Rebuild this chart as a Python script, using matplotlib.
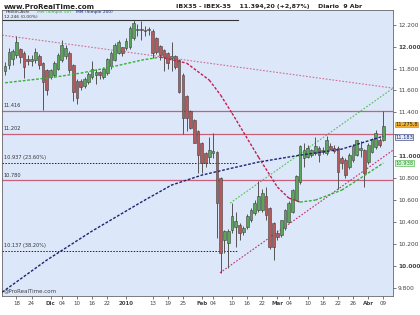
import numpy as np
import matplotlib.pyplot as plt
from matplotlib.transforms import blended_transform_factory

# Heikin-Ashi candles (daily, IBEX-35, Nov 2009 - Apr 2010)
opens = [11778, 11830, 11890, 11920, 11970, 11940, 11880, 11870, 11875, 11910,
         11850, 11780, 11720, 11740, 11800, 11876, 11910, 11940, 11830, 11680,
         11680, 11640, 11680, 11720, 11740, 11760, 11720, 11760, 11820, 11880,
         11940, 11990, 11983, 11995, 12077, 12150, 12155, 12150, 12148, 12134,
         12077, 11997, 11968, 11940, 11900, 11906, 11876, 11740, 11542, 11405,
         11329, 11225, 11120, 11030, 10990, 11030, 11035, 10800, 10235, 10208,
         10326, 10357, 10372, 10311, 10357, 10418, 10481, 10509, 10509, 10630,
         10527, 10390, 10299, 10281, 10345, 10400, 10491, 10600, 10767, 10983,
         10992, 11010, 11028, 11074, 11040, 11028, 11090, 11070, 11074, 10983,
         10965, 10901, 10965, 11010, 11060, 11056, 10946, 11040, 11083, 11147,
         11147]
highs = [11860, 11990, 11975, 12100, 11990, 11960, 11920, 11920, 11990, 11930,
         11860, 11800, 11800, 11870, 11940, 12060, 12010, 11960, 11840, 11700,
         11700, 11720, 11770, 11870, 11800, 11780, 11810, 11900, 11960, 12030,
         12060, 12000, 12080, 12190, 12246, 12210, 12230, 12190, 12180, 12160,
         12090, 12010, 11980, 11950, 12040, 11920, 11890, 11760, 11560, 11420,
         11340, 11240, 11130, 11040, 11180, 11213, 11050, 10810, 10330, 10340,
         10573, 10493, 10390, 10360, 10470, 10530, 10600, 10773, 10700, 10720,
         10540, 10400, 10330, 10420, 10520, 10590, 10700, 10830, 11100, 11120,
         11100, 11070, 11177, 11090, 11080, 11183, 11120, 11100, 11090, 11000,
         10980, 11030, 11110, 11150, 11140, 11070, 11120, 11170, 11238, 11170,
         11416]
lows = [11740, 11800, 11830, 11900, 11850, 11710, 11830, 11820, 11850, 11800,
        11420, 11560, 11700, 11720, 11790, 11860, 11890, 11760, 11500, 11480,
        11600, 11620, 11660, 11700, 11660, 11700, 11700, 11740, 11800, 11870,
        11930, 11910, 11970, 11980, 12060, 12100, 12060, 12100, 12110, 11900,
        11930, 11880, 11780, 11800, 11780, 11800, 11580, 11200, 11230, 11250,
        11120, 10850, 10850, 10900, 10937, 10980, 10254, 9940, 10117, 9980,
        10300, 10174, 10240, 10280, 10340, 10400, 10460, 10490, 10490, 10420,
        10150, 10053, 10240, 10260, 10330, 10390, 10480, 10590, 10750, 10900,
        10980, 10990, 11010, 10950, 11020, 11010, 11060, 11030, 10700, 10880,
        10800, 10880, 10950, 11000, 10990, 10721, 10930, 11030, 11070, 11080,
        11140]
closes = [11821, 11950, 11955, 12040, 11905, 11815, 11870, 11880, 11950, 11830,
          11680, 11600, 11785, 11850, 11920, 12013, 11985, 11790, 11590, 11530,
          11630, 11700, 11750, 11790, 11760, 11745, 11790, 11880, 11940, 12010,
          12040, 11940, 12043, 12168, 12213, 12160, 12150, 12145, 12152, 11937,
          11952, 11922, 11906, 11849, 11906, 11815, 11587, 11348, 11348, 11256,
          11120, 11010, 10938, 10938, 11056, 11040, 10574, 10117, 10310, 10311,
          10448, 10402, 10299, 10345, 10448, 10509, 10573, 10630, 10664, 10463,
          10171, 10171, 10263, 10418, 10509, 10573, 10691, 10812, 11086, 11056,
          11074, 11056, 11086, 11010, 11056, 11147, 11070, 11050, 10858, 10937,
          10828, 11010, 11086, 11147, 11075, 10846, 11101, 11150, 11211, 11101,
          11276]

# moving averages read at a few candles
mm50_idx = [0, 13, 20, 28, 36, 41, 48, 54, 57, 60, 67, 72, 75, 78, 82, 89, 94, 100]
mm50_val = [11670, 11721, 11758, 11813, 11876, 11904, 11849, 11694, 11557, 11393,
            10992, 10719, 10619, 10582, 10600, 10691, 10801, 10938]
mm200_idx = [0, 11, 23, 36, 44, 52, 60, 67, 78, 89, 100]
mm200_val = [9780, 10053, 10318, 10582, 10737, 10828, 10892, 10947, 11010, 11065, 11183]

# drawn trendlines: (x0, p0, x1, p1)
downtrend = (-0.8, 12104, 102.6, 11621)
channel_top = (59.5, 10573, 102.6, 11621)
channel_low = (56.8, 9937, 102.6, 11056)

# horizontal levels
levels = [11416, 11202, 10780]
fib_levels = [10937, 10137]
fib_labels = ["10.937 (23.60%)", "10.137 (38.20%)"]
top_level = 12246

tick_pos = [3, 7, 12, 15, 19, 23, 27, 32, 39, 43, 47, 52, 55, 60, 64, 68, 72, 75,
            80, 84, 88, 92, 96, 100]
tick_lab = ["18", "24", "Dic", "04", "10", "16", "22", "2010", "13", "19", "25",
            "Feb", "04", "10", "16", "22", "Mar", "04", "10", "16", "22", "26",
            "Abr", "09"]
bold_lab = {"Dic", "2010", "Feb", "Mar", "Abr"}

plt.rcParams['font.family'] = ['DejaVu Sans']
fig = plt.figure(figsize=(4.2, 3.15), dpi=100)
ax = fig.add_axes([0.005, 0.06, 0.931, 0.9095])
ax.set_facecolor('#dce7f9')

x = np.arange(len(opens))
o = np.array(opens)
c = np.array(closes)
up = c >= o
ax.vlines(x, lows, highs, color='#555555', lw=0.7, zorder=3)
ax.bar(x, np.abs(c - o) + 4, bottom=np.minimum(o, c), width=0.72,
       color=np.where(up, '#5aa55a', '#b55a5a'), edgecolor='#404040',
       linewidth=0.4, zorder=4)

xmin, xmax = -0.8, 102.6
cut = 61.6

for lv in levels:
    ax.axhline(lv, color='#c8607a', lw=0.9, zorder=2)
ax.plot([xmin, cut], [top_level] * 2, color='#333333', lw=0.8, zorder=2)
for lv in fib_levels:
    ax.plot([xmin, cut], [lv, lv], color='#222222', lw=0.7, ls=(0, (1.5, 1.5)), zorder=2)

# trendlines
for tl, col in [(downtrend, '#d07090'), (channel_top, '#50c050'), (channel_low, '#c03070')]:
    ax.plot([tl[0], tl[2]], [tl[1], tl[3]], color=col, lw=0.8, ls=(0, (1.5, 1.5)), zorder=2)

# MM200
ax.plot([xmin] + mm200_idx, [9761] + mm200_val, color='#1c2470', lw=1.0,
        ls=(0, (2, 1.2)), zorder=5)
# MM50, coloured by slope
for i in range(len(mm50_idx) - 1):
    col = '#38b038' if mm50_val[i + 1] >= mm50_val[i] else '#c02050'
    ax.plot(mm50_idx[i:i + 2], mm50_val[i:i + 2], color=col, lw=1.0,
            ls=(0, (2, 1.2)), zorder=5)

ax.set_xlim(xmin, xmax)
ax.set_ylim(9725, 12337)

ax.yaxis.tick_right()
yt = np.arange(9800, 12201, 200)
ax.set_yticks(yt)
# the 11.200 label sits under the value tags, as in the original
ax.set_yticklabels(["" if v == 11200 else f"{v / 1000:.3f}" for v in yt],
                   fontsize=4.2, color='#333333')
for lab, v in zip(ax.get_yticklabels(), yt):
    if v % 1000 == 0:
        lab.set_fontweight('bold')
ax.set_xticks(tick_pos)
ax.set_xticklabels(tick_lab, fontsize=4.0, color='#333333')
for lab in ax.get_xticklabels():
    if lab.get_text() in bold_lab:
        lab.set_fontweight('bold')
ax.tick_params(axis='both', length=2, width=0.5, pad=1.5, colors='#444444')
for sp in ax.spines.values():
    sp.set_color('#666666')
    sp.set_linewidth(0.6)

# level texts
tr = blended_transform_factory(ax.transAxes, ax.transData)
for lv in levels:
    ax.text(0.004, lv + 25, f"{lv / 1000:.3f}", transform=tr, fontsize=3.6,
            color='#333333', va='bottom')
for lv, lb in zip(fib_levels, fib_labels):
    ax.text(0.004, lv + 25, lb, transform=tr, fontsize=3.6, color='#333333', va='bottom')
ax.text(0.004, top_level + 4, "12.246 (0.00%)", transform=tr, fontsize=3.2,
        color='#333333', va='bottom')

ax.text(0.008, 0.999, "Heikin-Ashi", transform=ax.transAxes, fontsize=3.2,
        color='#333333', va='top')
ax.text(0.088, 0.999, "MM (Simple 50)", transform=ax.transAxes, fontsize=3.2,
        color='#38b038', va='top')
ax.text(0.19, 0.999, "MM (Simple 200)", transform=ax.transAxes, fontsize=3.2,
        color='#1c2470', va='top')
ax.text(0.004, 0.008, "@ProRealTime.com", transform=ax.transAxes, fontsize=4,
        color='#444444', va='bottom')

# value tags on the price axis
ax.text(1.005, 11290, "11.275,8", transform=tr, fontsize=3.7, va='center',
        color='#222222', bbox=dict(boxstyle='square,pad=0.08', fc='#f0b030', ec='#c08020', lw=0.4))
ax.text(1.005, 11175, "11.183", transform=tr, fontsize=3.7, va='center',
        color='#1c2470', bbox=dict(boxstyle='square,pad=0.08', fc='#e8eefa', ec='#1c2470', lw=0.4))
ax.text(1.005, 10938, "10.938", transform=tr, fontsize=3.7, va='center',
        color='#2a8a2a', bbox=dict(boxstyle='square,pad=0.08', fc='#d8f5d8', ec='#38b038', lw=0.4))

fig.text(0.008, 0.988, "www.ProRealTime.com", fontsize=5, fontweight='bold',
         color='#222222', va='top')
fig.text(0.42, 0.988, "IBX35 - IBEX-35    11.394,20 (+2,87%)    Diario  9 Abr",
         fontsize=4.5, fontweight='bold', color='#222222', va='top')

fig.savefig('out.png', dpi=100)
